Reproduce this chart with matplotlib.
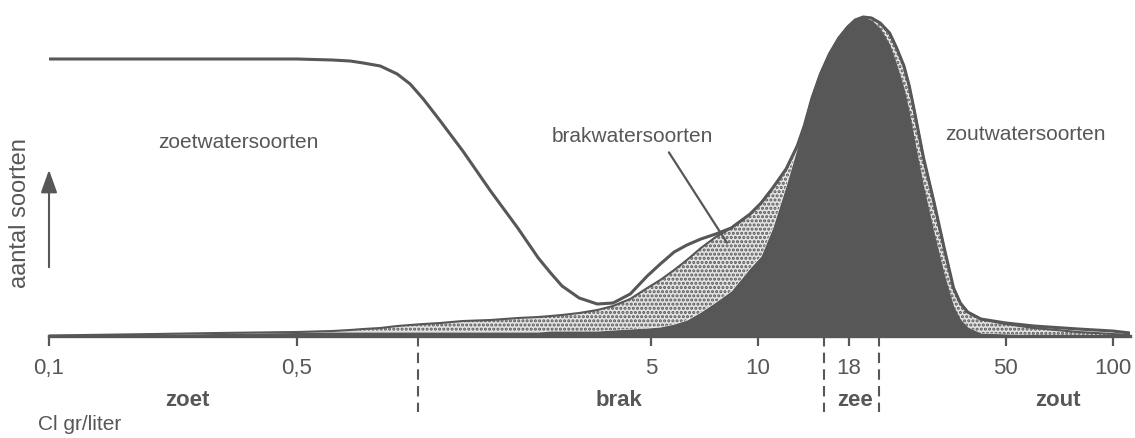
import matplotlib
matplotlib.use('Agg')
import matplotlib.pyplot as plt

plt.rcParams['font.family'] = ['Liberation Sans Narrow', 'Liberation Sans', 'DejaVu Sans']
plt.rcParams['hatch.color'] = '#575757'
plt.rcParams['hatch.linewidth'] = 1.5

ink = '#575757'

# Cl gr/liter (log scale)
chloride = [0.1, 0.2, 0.3, 0.5, 0.63, 0.707, 0.77, 0.86, 0.96, 1.044, 1.137, 1.27, 1.47,
            1.76, 2.1, 2.4, 2.6, 2.8, 3.13, 3.52, 3.9, 4.36, 4.87, 5.3, 5.8, 6.3, 6.9,
            7.6, 8.4, 9.5, 10.2, 11, 12.0, 12.9, 13.5, 14.2, 15.0, 15.9, 16.9, 17.9,
            18.8, 19.8, 20.9, 22.1, 23.5, 24.6, 25.8, 26.7, 27.5, 29.3, 31.3, 33.5,
            35.6, 37.2, 39, 42.5, 50, 60, 80, 100, 112]

# total number of species (outer line)
totaal = [277, 277, 277, 277, 276, 275, 273, 270, 262, 252, 237, 215, 185,
          145, 108, 78, 63, 50, 38, 32, 33, 42, 60, 72, 84, 91, 97,
          102, 108, 122, 133, 148, 167, 190, 210, 238, 262, 282, 298, 309,
          316, 319, 318, 313, 303, 288, 270, 250, 228, 178, 135, 88,
          48, 33, 24, 17, 13, 10, 7, 5, 3]

# brackish + marine species (top of stippled area)
brak_zout = [0.5, 2, 3, 4, 5, 6, 7, 8, 10, 11, 12, 13, 15,
             16, 18, 19, 20, 21, 23, 26, 30, 37, 48, 56, 66, 76, 88,
             99, 108, 122, 133, 148, 167, 190, 210, 238, 262, 282, 298, 309,
             316, 319, 318, 313, 303, 288, 270, 250, 228, 178, 135, 88,
             48, 33, 24, 17, 12, 8, 4, 2, 1]

# marine species (dark area)
zout = [0, 1.5, 2.5, 3.5, 4, 4, 4, 4, 4, 4, 4, 4, 4,
        4, 4, 4, 5, 5, 5, 5, 6, 7, 8, 9, 12, 16, 24,
        34, 45, 68, 80, 108, 150, 188, 210, 238, 262, 282, 298, 309,
        316, 319, 316, 308, 292, 272, 248, 225, 200, 150, 105, 62,
        30, 17, 9, 3, 2, 1, 0.5, 0.3, 0]

tick_vals = [0.1, 0.5, 5, 10, 18, 50, 100]
tick_labels = ['0,1', '0,5', '5', '10', '18', '50', '100']
grenzen = [1.1, 15.3, 22]

fig = plt.figure(figsize=(11.35, 4.38), dpi=100)
ax = fig.add_axes([49 / 1135, 102 / 438, 1081 / 1135, 326 / 438])
ax.set_xscale('log')
ax.set_xlim(0.1, 112)
ax.set_ylim(0, 326)

ax.fill_between(chloride, zout, brak_zout, facecolor='#e4e4e4', edgecolor=ink,
                hatch='....', linewidth=0)
ax.fill_between(chloride, 0, zout, color=ink, linewidth=0)
ax.plot(chloride, brak_zout, color=ink, lw=1.5, solid_joinstyle='round')
ax.plot(chloride, totaal, color=ink, lw=2.2, solid_joinstyle='round')

for s in ['top', 'right', 'left']:
    ax.spines[s].set_visible(False)
ax.spines['bottom'].set_linewidth(2.4)
ax.spines['bottom'].set_color(ink)
ax.set_yticks([])
ax.set_xticks(tick_vals)
ax.set_xticklabels(tick_labels)
ax.minorticks_off()
ax.tick_params(axis='x', length=7, width=1.6, color=ink, labelcolor=ink,
               labelsize=16, pad=9)

for g in grenzen:
    ax.plot([g, g], [0, -76], color=ink, lw=1.5, ls=(0, (5, 3)), clip_on=False)

txt = dict(color=ink, fontsize=15, ha='center', va='center')
ax.text(0.3415, 194, 'zoetwatersoorten', **txt)
ax.text(4.42, 199, 'brakwatersoorten', **txt)
ax.text(56.9, 202, 'zoutwatersoorten', **txt)
ax.annotate('', xy=(8.25, 91), xytext=(5.55, 186),
            arrowprops=dict(arrowstyle='-', color=ink, lw=1.6))

bold = dict(color=ink, fontsize=16, ha='center', va='center', fontweight='bold')
ax.text(0.245, -64, 'zoet', **bold)
ax.text(4.04, -64, 'brak', **bold)
ax.text(18.8, -64, 'zee', **bold)
ax.text(70, -64, 'zout', **bold)
ax.text(0.093, -89, 'Cl gr/liter', color=ink, fontsize=15, ha='left', va='center')

fig.text(20 / 1135, 1 - 213 / 438, 'aantal soorten', rotation=90, color=ink,
         fontsize=17, ha='center', va='center')
ax.annotate('', xy=(49 / 1135, 1 - 167 / 438), xytext=(49 / 1135, 1 - 270 / 438),
            xycoords='figure fraction', textcoords='figure fraction',
            arrowprops=dict(arrowstyle='-|>,head_length=0.7,head_width=0.25',
                            color=ink, lw=1.5, mutation_scale=20))

fig.savefig('out.png', dpi=100, facecolor='white')
